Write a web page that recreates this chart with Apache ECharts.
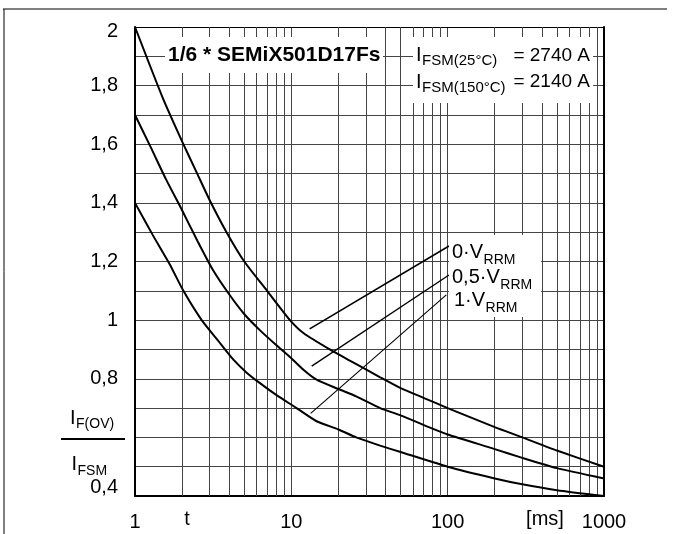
<!DOCTYPE html>
<html><head><meta charset="utf-8">
<script src="https://cdn.jsdelivr.net/npm/echarts@6/dist/echarts.min.js"></script>
<style>html,body{margin:0;padding:0;background:#fff}#c{width:677px;height:534px}</style>
</head><body><div id="c"></div>
<script>
// ---- data ----
const xTickValues = [1, 10, 100, 1000];
const xMinorGrid = [2,3,4,5,6,7,8,9,20,30,40,50,60,70,80,90,200,300,400,500,600,700,800,900];
const yLabelTenths = [4, 8, 10, 12, 14, 16, 18, 20];

const tTop = [1, 1.5, 2, 2.5, 3, 3.85, 5, 7, 9.8, 12, 17.6, 25, 37, 50, 70, 100, 200, 300, 500, 1000];
const vTop = [2.0, 1.76, 1.61, 1.50, 1.41, 1.30, 1.20, 1.10, 1.00, 0.955, 0.90, 0.855, 0.805, 0.768, 0.735, 0.70, 0.635, 0.60, 0.555, 0.50];

const tMid = [1, 1.26, 1.58, 2, 2.51, 3.16, 3.98, 5.01, 6.31, 8, 10, 12, 14.5, 20, 26, 37, 50, 80, 100, 200, 300, 500, 1000];
const vMid = [1.70, 1.59, 1.48, 1.375, 1.27, 1.17, 1.09, 1.02, 0.965, 0.915, 0.87, 0.83, 0.797, 0.765, 0.74, 0.70, 0.675, 0.63, 0.61, 0.56, 0.53, 0.495, 0.46];

const tBot = [1, 1.3, 1.67, 2.04, 2.67, 3.4, 4.26, 5.2, 6.3, 8, 10.8, 14.5, 20, 26, 37, 50, 100, 200, 300, 500, 1000];
const vBot = [1.40, 1.29, 1.19, 1.10, 1.00, 0.93, 0.865, 0.82, 0.785, 0.745, 0.70, 0.655, 0.627, 0.60, 0.572, 0.55, 0.50, 0.46, 0.44, 0.42, 0.40];

// leader lines (start near curve, end at label)
const leaderTop = [[13.1, 0.970], [102, 1.253]];
const leaderMid = [[13.5, 0.843], [102, 1.154]];
const leaderBot = [[13.3, 0.682], [98, 1.086]];

const curveLabelMain = ['0·V', '0,5·V', '1·V'];
const curveLabelSub = 'RRM';
const titleText = '1/6 * SEMiX501D17Fs';
const ifsmSub = ['FSM(25°C)', 'FSM(150°C)'];
const ifsmValue = ['= 2740 A', '= 2140 A'];

// ---- chart ----
const FONT = '"Liberation Sans", Arial, Helvetica, sans-serif';
const gridColor = '#444';
const chart = echarts.init(document.getElementById('c'));
const mctx = document.createElement('canvas').getContext('2d');
function tw(text, size, bold) { mctx.font = (bold ? 'bold ' : '') + size + 'px ' + FONT; return mctx.measureText(text).width; }

function pairs(ts, vs) { return ts.map((t, i) => [t, vs[i]]); }
function curve(name, ts, vs) {
  return {
    type: 'line', name: name, data: pairs(ts, vs), symbol: 'none', showSymbol: false,
    smooth: 0.2, silent: true, z: 5,
    lineStyle: { color: '#000', width: 2 }
  };
}
function leader(pts, w) {
  return {
    type: 'line', data: pts, symbol: 'none', showSymbol: false, silent: true, z: 6,
    lineStyle: { color: '#000', width: w }
  };
}
function txt(x, cy, text, size, align, bold) {
  return { type: 'text', x: x, y: cy, z: 61, silent: true,
    style: { text: text, font: (bold ? 'bold ' : '') + size + 'px ' + FONT, fill: '#000', align: align || 'left', verticalAlign: 'middle' } };
}
// big "I" followed by a lowered subscript
function iSub(x, cy, sub, mainSize, subSize, drop) {
  return [txt(x, cy, 'I', mainSize), txt(x + tw('I', mainSize) + 0.5, cy + drop, sub, subSize)];
}

const graphics = [
  // outer frame
  { type: 'line', shape: { x1: 3, y1: 9, x2: 667, y2: 9 }, style: { stroke: '#000', lineWidth: 1 }, z: 60 },
  { type: 'line', shape: { x1: 4, y1: 9, x2: 4, y2: 534 }, style: { stroke: '#000', lineWidth: 1 }, z: 60 },
  // white boxes
  { type: 'rect', shape: { x: 165, y: 37, width: 218, height: 36 }, style: { fill: '#fff' }, z: 50 },
  { type: 'rect', shape: { x: 413, y: 37, width: 180, height: 66 }, style: { fill: '#fff' }, z: 50 },
  { type: 'rect', shape: { x: 449, y: 235, width: 92, height: 82 }, style: { fill: '#fff' }, z: 50 },
  // title
  txt(168, 55, titleText, 21, 'left', true),
  // IFSM lines
  ...iSub(416, 55.5, ifsmSub[0], 20, 15, 5.5), txt(590, 55.5, ifsmValue[0], 19, 'right'),
  ...iSub(416, 82, ifsmSub[1], 20, 15, 5.5), txt(590, 82, ifsmValue[1], 19, 'right'),
  // y-axis fraction label
  ...iSub(70, 418.5, 'F(OV)', 20, 14, 6),
  { type: 'line', shape: { x1: 61, y1: 439, x2: 125, y2: 439 }, style: { stroke: '#000', lineWidth: 2 }, z: 60 },
  ...iSub(71.5, 464, 'FSM', 20, 14, 7),
  // x-axis name pieces
  txt(187, 519, 't', 20, 'center'),
  txt(545, 519, '[ms]', 20, 'center')
];
// curve labels: main text then subscript right after it
const labelLeft = [452, 452, 454];
const labelCy = [252.5, 277.5, 300.8];
curveLabelMain.forEach((m, i) => {
  graphics.push(txt(labelLeft[i], labelCy[i], m, 20));
  graphics.push(txt(labelLeft[i] + tw(m, 20) + 0.5, labelCy[i] + 7.5, curveLabelSub, 14));
});

const option = {
  animation: false,
  backgroundColor: '#fff',
  grid: { left: 135, top: 27, right: 73, bottom: 38, containLabel: false, outerBoundsMode: 'none' },
  xAxis: [
    {
      type: 'log', logBase: 10, min: 1, max: 1000, position: 'bottom',
      axisLine: { show: true, onZero: false, lineStyle: { color: '#000', width: 2 } },
      axisTick: { show: false },
      axisLabel: {
        margin: 16, fontSize: 20, fontFamily: FONT, color: '#000',
        formatter: v => xTickValues.indexOf(Math.round(v)) >= 0 ? String(Math.round(v)) : ''
      },
      splitLine: { show: true, lineStyle: { color: gridColor, width: 1 } },
      minorTick: { show: false }
    },
    {
      type: 'log', logBase: 10, min: 1, max: 1000, position: 'top',
      axisLine: { show: true, onZero: false, lineStyle: { color: '#000', width: 1 } },
      axisTick: { show: false }, axisLabel: { show: false }, splitLine: { show: false }
    }
  ],
  yAxis: [
    {
      type: 'value', min: 0.4, max: 2, interval: 0.1, position: 'left',
      axisLine: { show: true, onZero: false, lineStyle: { color: '#000', width: 2 } },
      axisTick: { show: false },
      axisLabel: {
        margin: 17, fontSize: 20, fontFamily: FONT, color: '#000', showMinLabel: true, showMaxLabel: true,
        formatter: function (v) {
          const k = Math.round(v * 10);
          if (yLabelTenths.indexOf(k) < 0) return '';
          const s = String(k / 10).replace('.', ',');
          if (k === 4) return '{lo|' + s + '}';
          if (k === 20) return '{hi|' + s + '}';
          return s;
        },
        rich: {
          lo: { fontSize: 20, fontFamily: FONT, color: '#000', padding: [0, 0, 18, 0] },
          hi: { fontSize: 20, fontFamily: FONT, color: '#000', padding: [8, 0, 0, 0] }
        }
      },
      splitLine: { show: true, lineStyle: { color: gridColor, width: 1 } }
    },
    {
      type: 'value', min: 0.4, max: 2, interval: 0.1, position: 'right',
      axisLine: { show: true, onZero: false, lineStyle: { color: '#000', width: 2 } },
      axisTick: { show: false }, axisLabel: { show: false }, splitLine: { show: false }
    }
  ],
  series: [
    {
      type: 'line', data: [], silent: true, z: 1,
      markLine: {
        silent: true, symbol: ['none', 'none'], animation: false,
        label: { show: false }, emphasis: { disabled: true },
        lineStyle: { type: 'solid', color: gridColor, width: 1 },
        data: xMinorGrid.map(x => ({ xAxis: x }))
      }
    },
    curve('0·VRRM', tTop, vTop),
    curve('0,5·VRRM', tMid, vMid),
    curve('1·VRRM', tBot, vBot),
    leader(leaderTop, 1.6),
    leader(leaderMid, 1.4),
    leader(leaderBot, 1.1)
  ],
  graphic: { elements: graphics }
};
chart.setOption(option);
</script>
</body></html>
